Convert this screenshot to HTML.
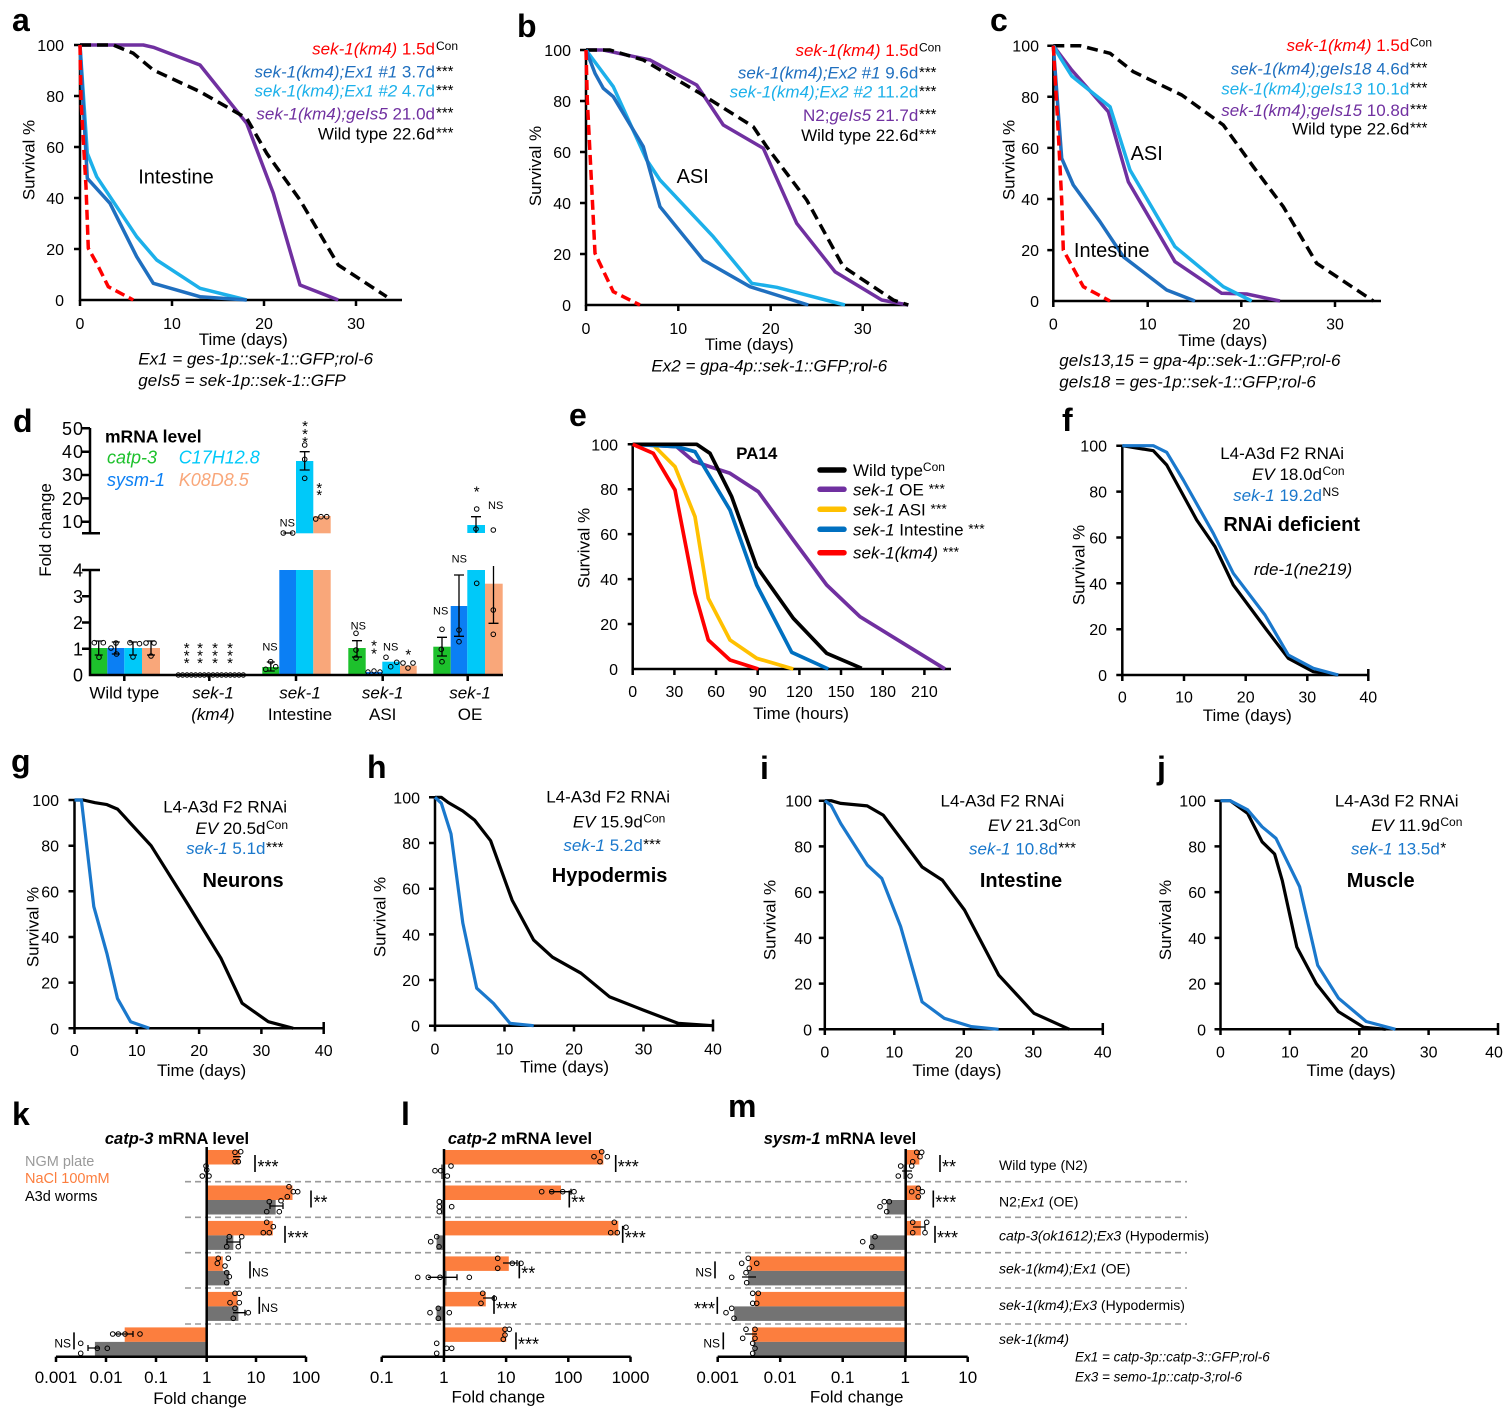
<!DOCTYPE html>
<html><head><meta charset="utf-8">
<style>
html,body{margin:0;padding:0;background:#fff;}
svg{display:block;}
text{font-family:"Liberation Sans",Arial,sans-serif;fill:#000;}
</style></head><body>
<svg width="1509" height="1409" viewBox="0 0 1509 1409" xmlns="http://www.w3.org/2000/svg">
<rect width="1509" height="1409" fill="#fff"/>

<!-- panel letters -->
<g font-size="32" font-weight="bold">
<text x="12" y="31">a</text><text x="517" y="37">b</text><text x="990" y="31">c</text>
<text x="13" y="432">d</text><text x="569" y="426">e</text><text x="1062" y="431">f</text>
<text x="11" y="772">g</text><text x="367" y="778">h</text><text x="760" y="779">i</text><text x="1157" y="779">j</text>
<text x="12" y="1125">k</text><text x="401" y="1125">l</text><text x="728" y="1117">m</text>
</g>

<!-- ================= PANEL A ================= -->
<g stroke="#000" stroke-width="2.5" fill="none">
<path d="M80,45V300H402"/>
<path d="M74,45H80M74,96H80M74,147H80M74,198H80M74,249H80M80,300V306M172,300V306M264,300V306M356,300V306"/>
</g>
<g font-size="16" text-anchor="end">
<text x="64" y="51">100</text><text x="64" y="102">80</text><text x="64" y="153">60</text><text x="64" y="204">40</text><text x="64" y="255">20</text><text x="64" y="306">0</text>
</g>
<g font-size="16" text-anchor="middle">
<text x="80" y="329">0</text><text x="172" y="329">10</text><text x="264" y="329">20</text><text x="356" y="329">30</text>
</g>
<g fill="none" stroke-width="3.5" stroke-linejoin="round">
<polyline stroke="#7030a0" points="80,45 143.3,45 153.3,47.3 200,65 246.7,123.3 273.3,193.3 300,285 338.3,300"/>
<polyline stroke="#000" stroke-dasharray="11 6" points="80,45 113.3,45 133.3,53.3 153.3,70 200,91.7 246.7,118.3 266.7,153.3 300,200 338.3,265 386.7,296.7"/>
<polyline stroke="#1cb0ea" points="80,45 87.3,153.3 96.7,176.7 136.7,236.7 156.7,260 200,288.3 246.7,300"/>
<polyline stroke="#1f6fbf" points="80,45 87.3,178.3 110,203.3 136.7,256.7 153.3,283.3 200,296.7 246.7,300"/>
<polyline stroke="#ff0000" stroke-dasharray="10 5" points="80,45 81,100 86,186.7 88.3,248.3 96.7,263.3 108.3,286.7 133.3,300"/>
</g>
<g font-size="17" text-anchor="end">
<text x="435" y="54.3" fill="#ff0000"><tspan font-style="italic" fill="#ff0000">sek-1(km4)</tspan><tspan fill="#ff0000"> 1.5d</tspan></text>
<text x="435" y="77.7"><tspan font-style="italic" fill="#1f6fbf">sek-1(km4);Ex1 #1</tspan><tspan fill="#1f6fbf"> 3.7d</tspan></text>
<text x="435" y="96.7"><tspan font-style="italic" fill="#1cb0ea">sek-1(km4);Ex1 #2</tspan><tspan fill="#1cb0ea"> 4.7d</tspan></text>
<text x="435" y="119.3"><tspan font-style="italic" fill="#7030a0">sek-1(km4);geIs5</tspan><tspan fill="#7030a0"> 21.0d</tspan></text>
<text x="435" y="139.3">Wild type 22.6d</text>
</g>
<text x="436" y="50" font-size="12">Con</text>
<g font-size="15"><text x="436" y="76">***</text><text x="436" y="95">***</text><text x="436" y="117.5">***</text><text x="436" y="137.5">***</text></g>
<text x="176" y="183.7" font-size="20" text-anchor="middle">Intestine</text>
<text transform="translate(34.5,160) rotate(-90)" font-size="17" text-anchor="middle">Survival %</text>
<text x="243.3" y="345" font-size="17" text-anchor="middle">Time (days)</text>
<g font-size="17" font-style="italic">
<text x="138.3" y="364.3">Ex1 = ges-1p::sek-1::GFP;rol-6</text>
<text x="138.3" y="386">geIs5 = sek-1p::sek-1::GFP</text>
</g>

<!-- ================= PANEL B ================= -->
<g stroke="#000" stroke-width="2.5" fill="none">
<path d="M586,50V305H908"/>
<path d="M580,50H586M580,101H586M580,152H586M580,203H586M580,254H586M586,305V311M678.3,305V311M770.7,305V311M862.7,305V311"/>
</g>
<g font-size="16" text-anchor="end">
<text x="571" y="56">100</text><text x="571" y="107">80</text><text x="571" y="158">60</text><text x="571" y="209">40</text><text x="571" y="260">20</text><text x="571" y="311">0</text>
</g>
<g font-size="16" text-anchor="middle">
<text x="586" y="334">0</text><text x="678.3" y="334">10</text><text x="770.7" y="334">20</text><text x="862.7" y="334">30</text>
</g>
<g fill="none" stroke-width="3.5" stroke-linejoin="round">
<polyline stroke="#7030a0" points="586,50 603.3,50 650,60 696.7,85 723.3,125 763.3,148.3 796.7,223.3 835,271.7 881.7,300 908.3,305"/>
<polyline stroke="#000" stroke-dasharray="11 6" points="586,50 610,50 643.3,60 700,93.3 753.3,126.7 766.7,146.7 806.7,200 843.3,266.7 893.3,300 908.3,305"/>
<polyline stroke="#1cb0ea" points="586,50 613.3,86.7 646.7,160 660,180 713.3,236.7 751.7,283.3 776.7,287.3 845,305"/>
<polyline stroke="#1f6fbf" points="586,50 595,73.3 603.3,88.3 613.3,96.7 643.3,146.7 660,206.7 703.3,260 750,286.7 808.3,305"/>
<polyline stroke="#ff0000" stroke-dasharray="10 5" points="586,50 587.3,100 591.7,186.7 595,253.3 613.3,291.7 640,305"/>
</g>
<g font-size="17" text-anchor="end">
<text x="918.3" y="56"><tspan font-style="italic" fill="#ff0000">sek-1(km4)</tspan><tspan fill="#ff0000"> 1.5d</tspan></text>
<text x="918.3" y="78.7"><tspan font-style="italic" fill="#1f6fbf">sek-1(km4);Ex2 #1</tspan><tspan fill="#1f6fbf"> 9.6d</tspan></text>
<text x="918.3" y="97.7"><tspan font-style="italic" fill="#1cb0ea">sek-1(km4);Ex2 #2</tspan><tspan fill="#1cb0ea"> 11.2d</tspan></text>
<text x="918.3" y="121"><tspan fill="#7030a0">N2;</tspan><tspan font-style="italic" fill="#7030a0">geIs5</tspan><tspan fill="#7030a0"> 21.7d</tspan></text>
<text x="918.3" y="141">Wild type 22.6d</text>
</g>
<text x="919" y="51.5" font-size="12">Con</text>
<g font-size="15"><text x="919" y="77">***</text><text x="919" y="96">***</text><text x="919" y="119">***</text><text x="919" y="139">***</text></g>
<text x="692.7" y="183" font-size="20" text-anchor="middle">ASI</text>
<text transform="translate(541,166) rotate(-90)" font-size="17" text-anchor="middle">Survival %</text>
<text x="749.3" y="350" font-size="17" text-anchor="middle">Time (days)</text>
<text x="769.3" y="371.7" font-size="17" font-style="italic" text-anchor="middle">Ex2 = gpa-4p::sek-1::GFP;rol-6</text>

<!-- ================= PANEL C ================= -->
<g stroke="#000" stroke-width="2.5" fill="none">
<path d="M1053.3,45.7V301H1381"/>
<path d="M1047.3,45.7H1053.3M1047.3,96.8H1053.3M1047.3,147.9H1053.3M1047.3,199H1053.3M1047.3,250.1H1053.3M1053.3,301V307M1147.7,301V307M1241.3,301V307M1335,301V307"/>
</g>
<g font-size="16" text-anchor="end">
<text x="1039" y="51.7">100</text><text x="1039" y="102.8">80</text><text x="1039" y="153.9">60</text><text x="1039" y="205">40</text><text x="1039" y="256">20</text><text x="1039" y="307">0</text>
</g>
<g font-size="16" text-anchor="middle">
<text x="1053.3" y="329.5">0</text><text x="1147.7" y="329.5">10</text><text x="1241.3" y="329.5">20</text><text x="1335" y="329.5">30</text>
</g>
<g fill="none" stroke-width="3.5" stroke-linejoin="round">
<polyline stroke="#000" stroke-dasharray="11 6" points="1053.3,45.7 1080,45.7 1110,53.3 1133.3,71.7 1181.7,95 1223.3,125 1253.3,166.7 1283.3,206.7 1316.7,263.3 1373.3,301"/>
<polyline stroke="#7030a0" points="1053.3,45.7 1071.7,70 1108.3,111.7 1128.3,181.7 1175,261.7 1221.7,293.3 1246.7,294 1280,301"/>
<polyline stroke="#1cb0ea" points="1053.3,45.7 1061.7,60 1071.7,76 1085,86.7 1110,106.7 1130,170 1175,246.7 1223.3,286.7 1251.7,301"/>
<polyline stroke="#1f6fbf" points="1053.3,45.7 1061.7,158.3 1073.3,185 1100,221.7 1123.3,256.7 1166.7,290 1195,301"/>
<polyline stroke="#ff0000" stroke-dasharray="10 5" points="1053.3,45.7 1058.3,133.3 1061.7,200 1063.3,250 1083.3,286.7 1110,301"/>
</g>
<g font-size="17" text-anchor="end">
<text x="1409.3" y="51"><tspan font-style="italic" fill="#ff0000">sek-1(km4)</tspan><tspan fill="#ff0000"> 1.5d</tspan></text>
<text x="1409.3" y="74.3"><tspan font-style="italic" fill="#1f6fbf">sek-1(km4);geIs18</tspan><tspan fill="#1f6fbf"> 4.6d</tspan></text>
<text x="1409.3" y="94.3"><tspan font-style="italic" fill="#1cb0ea">sek-1(km4);geIs13</tspan><tspan fill="#1cb0ea"> 10.1d</tspan></text>
<text x="1409.3" y="116"><tspan font-style="italic" fill="#7030a0">sek-1(km4);geIs15</tspan><tspan fill="#7030a0"> 10.8d</tspan></text>
<text x="1409.3" y="134.3">Wild type 22.6d</text>
</g>
<text x="1410" y="46.5" font-size="12">Con</text>
<g font-size="15"><text x="1410" y="72.5">***</text><text x="1410" y="92.5">***</text><text x="1410" y="114">***</text><text x="1410" y="132.5">***</text></g>
<text x="1146.7" y="160" font-size="20" text-anchor="middle">ASI</text>
<text x="1111.7" y="257" font-size="20" text-anchor="middle">Intestine</text>
<text transform="translate(1014.5,160) rotate(-90)" font-size="17" text-anchor="middle">Survival %</text>
<text x="1222.7" y="346" font-size="17" text-anchor="middle">Time (days)</text>
<g font-size="17" font-style="italic">
<text x="1059.3" y="366">geIs13,15 = gpa-4p::sek-1::GFP;rol-6</text>
<text x="1059.3" y="387.7">geIs18 = ges-1p::sek-1::GFP;rol-6</text>
</g>

<!-- ================= PANEL D ================= -->
<g>
<!-- bars -->
<rect x="90" y="648" width="17.3" height="27" fill="#1dc12c"/>
<rect x="107.3" y="648" width="17" height="27" fill="#0b7ff4"/>
<rect x="124.3" y="648" width="17.7" height="27" fill="#00c9f9"/>
<rect x="142" y="648" width="18" height="27" fill="#f9a77a"/>
<rect x="262.3" y="667" width="17" height="8" fill="#1dc12c"/>
<rect x="279.3" y="570" width="16.7" height="105" fill="#0b7ff4"/>
<rect x="296" y="570" width="17.3" height="105" fill="#00c9f9"/>
<rect x="313.3" y="570" width="17.4" height="105" fill="#f9a77a"/>
<rect x="296" y="461" width="17.3" height="72.3" fill="#00c9f9"/>
<rect x="313.3" y="516" width="17.4" height="17.3" fill="#f9a77a"/>
<rect x="348.3" y="648" width="17.4" height="27" fill="#1dc12c"/>
<rect x="365.7" y="672" width="16.6" height="3" fill="#0b7ff4"/>
<rect x="382.3" y="661.7" width="17.7" height="13.3" fill="#00c9f9"/>
<rect x="400" y="665.7" width="16.7" height="9.3" fill="#f9a77a"/>
<rect x="433.3" y="646.7" width="17.4" height="28.3" fill="#1dc12c"/>
<rect x="450.7" y="606" width="16.6" height="69" fill="#0b7ff4"/>
<rect x="467.3" y="570" width="17.7" height="105" fill="#00c9f9"/>
<rect x="485" y="583.7" width="17.7" height="91.3" fill="#f9a77a"/>
<rect x="467.3" y="525" width="17.7" height="8" fill="#00c9f9"/>
</g>
<!-- error bars -->
<g stroke="#000" stroke-width="1.3" fill="none">
<path d="M98.7,641V655M94.7,641H102.7M94.7,655H102.7"/>
<path d="M115.8,642V654M111.8,642H119.8M111.8,654H119.8"/>
<path d="M133,642V655M129,642H137M129,655H137"/>
<path d="M151,641V655M147,641H155M147,655H155"/>
<path d="M270.8,662V671M266.8,662H274.8M266.8,671H274.8"/>
<path d="M304.7,451.7V470M299.7,451.7H309.7M299.7,470H309.7"/>
<path d="M357,640.7V657M352,640.7H362M352,657H362"/>
<path d="M442,637.3V656M437,637.3H447M437,656H447"/>
<path d="M459,575V636.3M454,575H464M454,636.3H464"/>
<path d="M476,516.7V533M471,516.7H481"/>
<path d="M493.5,566V623.3M488.5,623.3H498.5"/>
<path d="M283.3,533H292.7"/>
</g>
<!-- dots -->
<g stroke="#000" stroke-width="1" fill="none">
<circle cx="94.3" cy="642.7" r="2.3"/><circle cx="103.3" cy="642.7" r="2.3"/><circle cx="99" cy="657.3" r="2.3"/>
<circle cx="111" cy="648" r="2.3"/><circle cx="116" cy="643" r="2.3"/><circle cx="116.5" cy="654" r="2.3"/>
<circle cx="130" cy="642.7" r="2.3"/><circle cx="139.5" cy="643.7" r="2.3"/><circle cx="133" cy="657" r="2.3"/>
<circle cx="146" cy="643" r="2.3"/><circle cx="154" cy="643" r="2.3"/><circle cx="151" cy="656" r="2.3"/>
<circle cx="178.3" cy="675" r="2.2"/><circle cx="182.6" cy="675" r="2.2"/><circle cx="187" cy="675" r="2.2"/><circle cx="191.3" cy="675" r="2.2"/>
<circle cx="195.6" cy="675" r="2.2"/><circle cx="200" cy="675" r="2.2"/><circle cx="204.3" cy="675" r="2.2"/><circle cx="208.6" cy="675" r="2.2"/>
<circle cx="213" cy="675" r="2.2"/><circle cx="217.3" cy="675" r="2.2"/><circle cx="221.6" cy="675" r="2.2"/><circle cx="226" cy="675" r="2.2"/>
<circle cx="230.3" cy="675" r="2.2"/><circle cx="234.6" cy="675" r="2.2"/><circle cx="239" cy="675" r="2.2"/><circle cx="243.3" cy="675" r="2.2"/>
<circle cx="265.7" cy="669.3" r="2.3"/><circle cx="270.7" cy="661.7" r="2.3"/><circle cx="275.7" cy="666.7" r="2.3"/>
<circle cx="304.7" cy="459.3" r="2.3"/><circle cx="304.7" cy="478.3" r="2.3"/><circle cx="304.7" cy="445" r="2.3"/>
<circle cx="315.7" cy="519" r="2.3"/><circle cx="321" cy="516.7" r="2.3"/><circle cx="326.7" cy="516.7" r="2.3"/>
<circle cx="283.3" cy="533" r="2.3"/><circle cx="292.7" cy="533" r="2.3"/>
<circle cx="356" cy="633.3" r="2.3"/><circle cx="356" cy="650" r="2.3"/><circle cx="356" cy="658" r="2.3"/>
<circle cx="368" cy="672" r="2.2"/><circle cx="374" cy="671" r="2.2"/><circle cx="380" cy="672" r="2.2"/>
<circle cx="386" cy="657.3" r="2.3"/><circle cx="390.7" cy="666.7" r="2.3"/><circle cx="396.7" cy="662.3" r="2.3"/>
<circle cx="403" cy="663" r="2.3"/><circle cx="408" cy="668" r="2.3"/><circle cx="413" cy="663" r="2.3"/>
<circle cx="442" cy="629.3" r="2.3"/><circle cx="441.3" cy="649.3" r="2.3"/><circle cx="442" cy="661.7" r="2.3"/>
<circle cx="459" cy="630" r="2.3"/><circle cx="459" cy="641.7" r="2.3"/>
<circle cx="476.7" cy="509" r="2.3"/><circle cx="476" cy="529" r="2.3"/><circle cx="476.7" cy="583.3" r="2.3"/>
<circle cx="493.3" cy="610" r="2.3"/><circle cx="493.3" cy="634.3" r="2.3"/><circle cx="493.3" cy="530" r="2.3"/>
</g>
<!-- axes d -->
<g stroke="#000" stroke-width="2.5" fill="none">
<path d="M90,428V533.3M82,428.3H90M82,451.7H90M82,475H90M82,498.4H90M82,521.7H90M82,533.3H100"/>
<path d="M90,570V675H503M82,570H100M82,596.3H90M82,622.5H90M82,648.8H90"/>
<path d="M124.3,675V681M209.3,675V681M296,675V681M382.7,675V681M467.7,675V681"/>
</g>
<g font-size="18" text-anchor="end" letter-spacing="1">
<text x="84" y="435">50</text><text x="84" y="458">40</text><text x="84" y="481">30</text><text x="84" y="505">20</text><text x="84" y="528">10</text>
<text x="84" y="576.5">4</text><text x="84" y="602.8">3</text><text x="84" y="629">2</text><text x="84" y="655.3">1</text><text x="84" y="681.5">0</text>
</g>
<text transform="translate(51,530) rotate(-90)" font-size="17" text-anchor="middle">Fold change</text>
<text x="105" y="442.7" font-size="17.5" font-weight="bold">mRNA level</text>
<g font-size="18" font-style="italic">
<text x="107" y="463.5" fill="#1dc12c" style="fill:#1dc12c">catp-3</text>
<text x="178.7" y="463.5" style="fill:#00c9f9">C17H12.8</text>
<text x="107" y="486" style="fill:#0b7ff4">sysm-1</text>
<text x="178.7" y="486" style="fill:#f9a77a">K08D8.5</text>
</g>
<g font-size="17" text-anchor="middle">
<text x="124.3" y="698.7">Wild type</text>
<text x="213" y="698.7" font-style="italic">sek-1</text><text x="213" y="720" font-style="italic">(km4)</text>
<text x="300" y="698.7" font-style="italic">sek-1</text><text x="300" y="720">Intestine</text>
<text x="382.7" y="698.7" font-style="italic">sek-1</text><text x="382.7" y="720">ASI</text>
<text x="470" y="698.7" font-style="italic">sek-1</text><text x="470" y="720">OE</text>
</g>
<g font-size="11" text-anchor="middle">
<text x="270" y="650.7">NS</text><text x="287.3" y="526.7">NS</text>
<text x="358.3" y="629.7">NS</text><text x="390.7" y="650.7">NS</text>
<text x="440.7" y="614.7">NS</text><text x="459.3" y="562.3">NS</text><text x="495.7" y="509">NS</text>
</g>
<g font-size="15" text-anchor="middle">
<text x="186.7" y="653">*</text><text x="186.7" y="660.3">*</text><text x="186.7" y="668">*</text>
<text x="200" y="653">*</text><text x="200" y="660.3">*</text><text x="200" y="668">*</text>
<text x="215" y="653">*</text><text x="215" y="660.3">*</text><text x="215" y="668">*</text>
<text x="230" y="653">*</text><text x="230" y="660.3">*</text><text x="230" y="668">*</text>
<text x="305" y="431">*</text><text x="305" y="439">*</text><text x="305" y="447">*</text>
<text x="319.3" y="493">*</text><text x="319.3" y="500">*</text>
<text x="374" y="650.7">*</text><text x="374" y="658.7">*</text>
<text x="408.3" y="659.7">*</text>
<text x="476.7" y="496.3">*</text>
</g>

<!-- ================= PANEL E ================= -->
<g stroke="#000" stroke-width="2.5" fill="none">
<path d="M632.7,444.3V669H951"/>
<path d="M627.7,444.3H632.7M627.7,489.2H632.7M627.7,534.1H632.7M627.7,579.1H632.7M627.7,624H632.7M632.7,669V675M674.4,669V675M716,669V675M757.7,669V675M799.4,669V675M841,669V675M882.7,669V675M924.4,669V675"/>
</g>
<g font-size="16" text-anchor="end">
<text x="618" y="450.3">100</text><text x="618" y="495.2">80</text><text x="618" y="540.1">60</text><text x="618" y="585.1">40</text><text x="618" y="630">20</text><text x="618" y="675">0</text>
</g>
<g font-size="16" text-anchor="middle">
<text x="632.7" y="697">0</text><text x="674.4" y="697">30</text><text x="716" y="697">60</text><text x="757.7" y="697">90</text><text x="799.4" y="697">120</text><text x="841" y="697">150</text><text x="882.7" y="697">180</text><text x="924.4" y="697">210</text>
</g>
<g fill="none" stroke-width="3.7" stroke-linejoin="round">
<polyline stroke="#7030a0" points="632.7,444.3 676.7,446.7 693.3,461 710,466.7 730,473.3 758.3,491.7 793.3,540 826.7,585 860,616.7 945,669"/>
<polyline stroke="#ffc000" points="632.7,444.3 653.3,445 675,466.7 695,516.7 708.3,598.3 730,640 756.7,658.3 793.3,669"/>
<polyline stroke="#0070c0" points="632.7,444.3 676.7,446.7 695,451.7 730,510 756.7,585 791.7,652.3 828.3,669"/>
<polyline stroke="#000" points="632.7,444.3 696.7,444.3 710,453.3 731.7,496.7 756.7,566.7 793.3,618.3 826.7,653.3 861.7,668.3"/>
<polyline stroke="#ff0000" points="632.7,444.3 653.3,453.3 675,490 695,593.3 708.3,640 730,660 758.3,669"/>
</g>
<text x="756.7" y="459" font-size="17" font-weight="bold" text-anchor="middle">PA14</text>
<g stroke-width="5.5" stroke-linecap="round">
<line x1="820" y1="470" x2="844" y2="470" stroke="#000"/>
<line x1="820" y1="489.3" x2="844" y2="489.3" stroke="#7030a0"/>
<line x1="820" y1="509.3" x2="844" y2="509.3" stroke="#ffc000"/>
<line x1="820" y1="529.3" x2="844" y2="529.3" stroke="#0070c0"/>
<line x1="820" y1="552.7" x2="844" y2="552.7" stroke="#ff0000"/>
</g>
<g font-size="17">
<text x="853" y="476">Wild type<tspan font-size="12" dy="-5">Con</tspan></text>
<text x="853" y="495.3"><tspan font-style="italic">sek-1</tspan> OE <tspan font-size="14" dy="-2">***</tspan></text>
<text x="853" y="515.3"><tspan font-style="italic">sek-1</tspan> ASI <tspan font-size="14" dy="-2">***</tspan></text>
<text x="853" y="535.3"><tspan font-style="italic">sek-1</tspan> Intestine <tspan font-size="14" dy="-2">***</tspan></text>
<text x="853" y="558.7"><tspan font-style="italic">sek-1(km4)</tspan> <tspan font-size="14" dy="-2">***</tspan></text>
</g>
<text transform="translate(589.5,548) rotate(-90)" font-size="17" text-anchor="middle">Survival %</text>
<text x="801" y="719" font-size="17" text-anchor="middle">Time (hours)</text>

<!-- ================= PANEL F ================= -->
<g stroke="#000" stroke-width="2.5" fill="none">
<path d="M1122.3,445.7V675H1368.3"/>
<path d="M1116.3,445.7H1122.3M1116.3,491.6H1122.3M1116.3,537.5H1122.3M1116.3,583.3H1122.3M1116.3,629.2H1122.3M1116.3,675H1122.3M1122.3,675V681M1184,675V681M1245.7,675V681M1307.3,675V681M1368.3,669V681"/>
</g>
<g font-size="16" text-anchor="end">
<text x="1107" y="451.7">100</text><text x="1107" y="497.6">80</text><text x="1107" y="543.5">60</text><text x="1107" y="589.3">40</text><text x="1107" y="635.2">20</text><text x="1107" y="681">0</text>
</g>
<g font-size="16" text-anchor="middle">
<text x="1122.3" y="702.7">0</text><text x="1184" y="702.7">10</text><text x="1245.7" y="702.7">20</text><text x="1307.3" y="702.7">30</text><text x="1368.3" y="702.7">40</text>
</g>
<g fill="none" stroke-width="3.2" stroke-linejoin="round">
<polyline stroke="#000" points="1122.3,445.7 1153.3,450.7 1166.7,465 1196.7,520 1215,546.7 1233.3,585 1266.7,630 1288.3,658.3 1313.3,671.7 1338.3,675"/>
<polyline stroke="#1a78cc" points="1122.3,445.7 1153.3,445.7 1166.7,452.3 1183.3,480 1213.3,533.3 1233.3,573.3 1265,615 1288.3,655 1313.3,668.3 1338.3,675"/>
</g>
<g font-size="17" text-anchor="end">
<text x="1344" y="459">L4-A3d F2 RNAi</text>
<text x="1322" y="480"><tspan font-style="italic">EV</tspan> 18.0d</text>
<text x="1322" y="501" style="fill:#1a78cc"><tspan font-style="italic">sek-1</tspan> 19.2d</text>
</g>
<text x="1322.5" y="475" font-size="12">Con</text>
<text x="1322.5" y="496" font-size="12">NS</text>
<text x="1291.7" y="531" font-size="20" font-weight="bold" text-anchor="middle">RNAi deficient</text>
<text x="1303" y="575" font-size="17" font-style="italic" text-anchor="middle">rde-1(ne219)</text>
<text transform="translate(1084.5,565) rotate(-90)" font-size="17" text-anchor="middle">Survival %</text>
<text x="1247.3" y="721" font-size="17" text-anchor="middle">Time (days)</text>

<!-- ================= PANEL G ================= -->
<g stroke="#000" stroke-width="2.5" fill="none">
<path d="M74.5,800V1028.3H323.7"/>
<path d="M68.5,800H74.5M68.5,845.7H74.5M68.5,891.3H74.5M68.5,937H74.5M68.5,982.6H74.5M68.5,1028.3H74.5M74.5,1028.3V1034M136.8,1028.3V1034M199.1,1028.3V1034M261.4,1028.3V1034M323.7,1022V1034"/>
</g>
<g font-size="16" text-anchor="end">
<text x="59" y="806">100</text><text x="59" y="851.7">80</text><text x="59" y="897.3">60</text><text x="59" y="943">40</text><text x="59" y="988.6">20</text><text x="59" y="1034.3">0</text>
</g>
<g font-size="16" text-anchor="middle">
<text x="74.5" y="1056">0</text><text x="136.8" y="1056">10</text><text x="199.1" y="1056">20</text><text x="261.4" y="1056">30</text><text x="323.7" y="1056">40</text>
</g>
<g fill="none" stroke-width="3.2" stroke-linejoin="round">
<polyline stroke="#000" points="74.5,800 83.2,800 95.1,802.7 106.9,804.6 117.5,809.1 151.1,845.7 187.3,903.4 220.9,958.2 242.1,1003.2 268.3,1021.7 293.2,1028.3"/>
<polyline stroke="#1a78cc" points="74.5,800 81.4,800 93.8,906.6 106.9,953.4 117.5,998.6 130.6,1021.7 149.3,1028.3"/>
</g>
<g font-size="17" text-anchor="end">
<text x="287" y="812.7">L4-A3d F2 RNAi</text>
<text x="265.5" y="834"><tspan font-style="italic">EV</tspan> 20.5d</text>
<text x="265.5" y="854" style="fill:#1a78cc"><tspan font-style="italic">sek-1</tspan> 5.1d</text>
</g>
<text x="266" y="829" font-size="12">Con</text>
<text x="266" y="852" font-size="15">***</text>
<text x="243" y="887" font-size="20" font-weight="bold" text-anchor="middle">Neurons</text>
<text transform="translate(38.5,927) rotate(-90)" font-size="17" text-anchor="middle">Survival %</text>
<text x="201.6" y="1076" font-size="17" text-anchor="middle">Time (days)</text>

<!-- ================= PANEL H ================= -->
<g stroke="#000" stroke-width="2.5" fill="none">
<path d="M435,797.3V1025.7H713"/>
<path d="M429,797.3H435M429,843H435M429,888.7H435M429,934.4H435M429,980H435M429,1025.7H435M435,1025.7V1031.5M504.5,1025.7V1031.5M574,1025.7V1031.5M643.5,1025.7V1031.5M713,1019.5V1031.5"/>
</g>
<g font-size="16" text-anchor="end">
<text x="420" y="803.3">100</text><text x="420" y="849">80</text><text x="420" y="894.7">60</text><text x="420" y="940.4">40</text><text x="420" y="986">20</text><text x="420" y="1031.7">0</text>
</g>
<g font-size="16" text-anchor="middle">
<text x="435" y="1054.3">0</text><text x="504.5" y="1054.3">10</text><text x="574" y="1054.3">20</text><text x="643.5" y="1054.3">30</text><text x="713" y="1054.3">40</text>
</g>
<g fill="none" stroke-width="3.2" stroke-linejoin="round">
<polyline stroke="#000" points="435,797.3 441.3,797.3 448.2,802.5 462.8,811 474.6,820.1 490.6,840.7 512.1,900.1 533.7,940.1 552.5,957.2 581,973.2 609.4,996.7 642.8,1009.9 678.3,1023.4 713,1025.7"/>
<polyline stroke="#1a78cc" points="435,797.3 441.3,803.2 451,833.8 462.8,922.9 476.7,988.2 493.4,1003.3 510.1,1023.4 533.7,1025.7"/>
</g>
<g font-size="17" text-anchor="end">
<text x="670" y="802.7">L4-A3d F2 RNAi</text>
<text x="642.8" y="827.7"><tspan font-style="italic">EV</tspan> 15.9d</text>
<text x="642.8" y="851" style="fill:#1a78cc"><tspan font-style="italic">sek-1</tspan> 5.2d</text>
</g>
<text x="643.3" y="822.7" font-size="12">Con</text>
<text x="643.3" y="849" font-size="15">***</text>
<text x="609.6" y="882" font-size="20" font-weight="bold" text-anchor="middle">Hypodermis</text>
<text transform="translate(385.5,917) rotate(-90)" font-size="17" text-anchor="middle">Survival %</text>
<text x="564.5" y="1072.7" font-size="17" text-anchor="middle">Time (days)</text>

<!-- ================= PANEL I ================= -->
<g stroke="#000" stroke-width="2.5" fill="none">
<path d="M824.8,800.7V1029.3H1102.8"/>
<path d="M818.8,800.7H824.8M818.8,846.4H824.8M818.8,892.1H824.8M818.8,937.9H824.8M818.8,983.6H824.8M818.8,1029.3H824.8M824.8,1029.3V1035M894.3,1029.3V1035M963.8,1029.3V1035M1033.3,1029.3V1035M1102.8,1023V1035"/>
</g>
<g font-size="16" text-anchor="end">
<text x="812" y="806.7">100</text><text x="812" y="852.4">80</text><text x="812" y="898.1">60</text><text x="812" y="943.9">40</text><text x="812" y="989.6">20</text><text x="812" y="1035.3">0</text>
</g>
<g font-size="16" text-anchor="middle">
<text x="824.8" y="1057.7">0</text><text x="894.3" y="1057.7">10</text><text x="963.8" y="1057.7">20</text><text x="1033.3" y="1057.7">30</text><text x="1102.8" y="1057.7">40</text>
</g>
<g fill="none" stroke-width="3.2" stroke-linejoin="round">
<polyline stroke="#000" points="824.8,800.7 831.1,800.7 840.8,803.4 867.2,805.9 883.2,815.1 922.1,867 942.3,880.1 964.5,910 998.6,974.9 1034,1013.3 1069.4,1029.3"/>
<polyline stroke="#1a78cc" points="824.8,800.7 831.1,805.3 840.8,823.6 867.2,864.9 881.8,878.4 900.6,926.4 922.1,1001.9 944.3,1018.3 971.4,1026.6 998.6,1029.3"/>
</g>
<g font-size="17" text-anchor="end">
<text x="1064.3" y="806.7">L4-A3d F2 RNAi</text>
<text x="1057.9" y="831"><tspan font-style="italic">EV</tspan> 21.3d</text>
<text x="1057.9" y="854.3" style="fill:#1a78cc"><tspan font-style="italic">sek-1</tspan> 10.8d</text>
</g>
<text x="1058.4" y="826" font-size="12">Con</text>
<text x="1058.4" y="852.3" font-size="15">***</text>
<text x="1021" y="887" font-size="20" font-weight="bold" text-anchor="middle">Intestine</text>
<text transform="translate(775.6,920) rotate(-90)" font-size="17" text-anchor="middle">Survival %</text>
<text x="956.9" y="1076" font-size="17" text-anchor="middle">Time (days)</text>

<!-- ================= PANEL J ================= -->
<g stroke="#000" stroke-width="2.5" fill="none">
<path d="M1220.5,800.7V1029.3H1498"/>
<path d="M1214.5,800.7H1220.5M1214.5,846.4H1220.5M1214.5,892.1H1220.5M1214.5,937.9H1220.5M1214.5,983.6H1220.5M1214.5,1029.3H1220.5M1220.5,1029.3V1035M1289.9,1029.3V1035M1359.3,1029.3V1035M1428.6,1029.3V1035M1498,1023V1035"/>
</g>
<g font-size="16" text-anchor="end">
<text x="1206" y="806.7">100</text><text x="1206" y="852.4">80</text><text x="1206" y="898.1">60</text><text x="1206" y="943.9">40</text><text x="1206" y="989.6">20</text><text x="1206" y="1035.3">0</text>
</g>
<g font-size="16" text-anchor="middle">
<text x="1220.5" y="1057.7">0</text><text x="1289.9" y="1057.7">10</text><text x="1359.3" y="1057.7">20</text><text x="1428.6" y="1057.7">30</text><text x="1494" y="1057.7">40</text>
</g>
<g fill="none" stroke-width="3.2" stroke-linejoin="round">
<polyline stroke="#000" points="1220.5,800.7 1230.2,800.7 1247.6,813.3 1262.1,841.8 1274.6,854 1282.3,880.7 1296.8,947 1316.3,983.6 1338.5,1011.7 1363.5,1027.2 1385.7,1029.3"/>
<polyline stroke="#1a78cc" points="1220.5,800.7 1230.2,800.7 1247.6,809.8 1262.1,826.8 1276,838.4 1299.6,886.7 1317.7,965.3 1338.5,998.2 1366.2,1021.5 1395.4,1029.3"/>
</g>
<g font-size="17" text-anchor="end">
<text x="1458.6" y="806.7">L4-A3d F2 RNAi</text>
<text x="1439.9" y="831"><tspan font-style="italic">EV</tspan> 11.9d</text>
<text x="1439.9" y="854.3" style="fill:#1a78cc"><tspan font-style="italic">sek-1</tspan> 13.5d</text>
</g>
<text x="1440.4" y="826" font-size="12">Con</text>
<text x="1440.4" y="852.3" font-size="15">*</text>
<text x="1380.7" y="887" font-size="20" font-weight="bold" text-anchor="middle">Muscle</text>
<text transform="translate(1170.8,920) rotate(-90)" font-size="17" text-anchor="middle">Survival %</text>
<text x="1351.1" y="1076" font-size="17" text-anchor="middle">Time (days)</text>

<!-- ================= PANELS K L M ================= -->
<g stroke="#9a9a9a" stroke-width="1.6" stroke-dasharray="6 4">
<line x1="185" y1="1181.7" x2="1187" y2="1181.7"/>
<line x1="185" y1="1217.3" x2="1187" y2="1217.3"/>
<line x1="185" y1="1252.7" x2="1187" y2="1252.7"/>
<line x1="185" y1="1288" x2="1187" y2="1288"/>
<line x1="185" y1="1324" x2="1187" y2="1324"/>
</g>
<!-- k bars -->
<g fill="#fc7e3e">
<rect x="206.7" y="1150" width="33" height="14.5"/>
<rect x="206.7" y="1185.5" width="85.8" height="14.5"/>
<rect x="206.7" y="1220.9" width="66.1" height="14.5"/>
<rect x="206.7" y="1256.4" width="16.1" height="14.5"/>
<rect x="206.7" y="1291.9" width="30.7" height="14.5"/>
<rect x="124.7" y="1327.4" width="82" height="14.5"/>
<!-- l -->
<rect x="444" y="1150" width="159.3" height="14.5"/>
<rect x="444" y="1185.5" width="117" height="14.5"/>
<rect x="444" y="1220.9" width="174.3" height="14.5"/>
<rect x="444" y="1256.4" width="64.8" height="14.5"/>
<rect x="444" y="1291.9" width="41.8" height="14.5"/>
<rect x="444" y="1327.4" width="62.2" height="14.5"/>
<!-- m -->
<rect x="905.7" y="1150" width="13.6" height="14.5"/>
<rect x="905.7" y="1185.5" width="14.4" height="14.5"/>
<rect x="905.7" y="1220.9" width="15.2" height="14.5"/>
<rect x="749.6" y="1256.4" width="156.1" height="14.5"/>
<rect x="755.1" y="1291.9" width="150.6" height="14.5"/>
<rect x="752.1" y="1327.4" width="153.6" height="14.5"/>
</g>
<g fill="#737373">
<rect x="206.7" y="1200" width="69" height="14.5"/>
<rect x="206.7" y="1235.4" width="26.6" height="14.5"/>
<rect x="206.7" y="1270.9" width="22.4" height="14.5"/>
<rect x="206.7" y="1306.4" width="31.7" height="14.5"/>
<rect x="94.9" y="1341.9" width="111.8" height="14.5"/>
<rect x="441" y="1164.5" width="3" height="14.5"/>
<rect x="441" y="1200" width="3" height="14.5"/>
<rect x="436.6" y="1235.4" width="7.4" height="14.5"/>
<rect x="444" y="1270.9" width="2.6" height="14.5"/>
<rect x="436.6" y="1306.4" width="7.4" height="14.5"/>
<rect x="903.4" y="1164.5" width="2.3" height="14.5"/>
<rect x="886.9" y="1200" width="18.8" height="14.5"/>
<rect x="870.2" y="1235.4" width="35.5" height="14.5"/>
<rect x="748.1" y="1270.9" width="157.6" height="14.5"/>
<rect x="734.2" y="1306.4" width="171.5" height="14.5"/>
<rect x="753.6" y="1341.9" width="152.1" height="14.5"/>
</g>
<!-- error bars k l m -->
<g stroke="#000" stroke-width="1.3" fill="none">
<path d="M233,1156.7H241M270,1206H283M270,1203V1209M283,1203V1209M227,1242H240M227,1239V1245M240,1239V1245M233,1312.7H245M245,1309.7V1315.7M115,1334H133M133,1331V1337M88,1348H100M88,1345V1351"/>
<path d="M549,1191.7H571M571,1188.7V1194.7M503,1263H517M517,1260V1266M428,1277.3H457M457,1274.3V1280.3M483,1298H494M494,1295V1301"/>
<path d="M902,1171H912M913,1227H925M925,1224V1230M742,1277H756M745,1334H757"/>
</g>
<!-- axes k l m -->
<g stroke="#000" stroke-width="2.5" fill="none">
<path d="M206.7,1147V1356.7M56,1356.7H306M56,1356.7V1362M106,1356.7V1362M156,1356.7V1362M206.7,1356.7V1362M256,1356.7V1362M306,1356.7V1362"/>
<path d="M444,1149V1356.7M381.7,1356.7H630.7M381.7,1356.7V1362M443.9,1356.7V1362M506.1,1356.7V1362M568.3,1356.7V1362M630.5,1356.7V1362"/>
<path d="M905.7,1149V1356.7M717.7,1356.7H967.7M717.7,1356.7V1362M780.2,1356.7V1362M842.7,1356.7V1362M905.2,1356.7V1362M967.7,1356.7V1362"/>
</g>
<!-- dots k l m -->
<g stroke="#000" stroke-width="1" fill="none">
<circle cx="235" cy="1152.3" r="2.3"/><circle cx="240.7" cy="1151.7" r="2.3"/><circle cx="235" cy="1161.7" r="2.3"/><circle cx="238.3" cy="1161.7" r="2.3"/>
<circle cx="206" cy="1166" r="2.3"/><circle cx="206.7" cy="1170" r="2.3"/><circle cx="202.3" cy="1176" r="2.3"/><circle cx="209" cy="1176" r="2.3"/>
<circle cx="289" cy="1186.7" r="2.3"/><circle cx="293.3" cy="1191.7" r="2.3"/><circle cx="297.7" cy="1191.7" r="2.3"/><circle cx="287.3" cy="1196.7" r="2.3"/>
<circle cx="269.3" cy="1201.7" r="2.3"/><circle cx="281" cy="1200.7" r="2.3"/><circle cx="266.7" cy="1211.7" r="2.3"/><circle cx="279.3" cy="1211.7" r="2.3"/>
<circle cx="266.7" cy="1222.3" r="2.3"/><circle cx="273.3" cy="1226.7" r="2.3"/><circle cx="263.3" cy="1232.7" r="2.3"/><circle cx="269.3" cy="1232.7" r="2.3"/>
<circle cx="229.3" cy="1236.7" r="2.3"/><circle cx="241.7" cy="1236.7" r="2.3"/><circle cx="226.7" cy="1246.7" r="2.3"/><circle cx="238.3" cy="1246.7" r="2.3"/>
<circle cx="218.3" cy="1258.3" r="2.3"/><circle cx="228.3" cy="1258.3" r="2.3"/><circle cx="217.3" cy="1263.3" r="2.3"/><circle cx="225" cy="1266" r="2.3"/>
<circle cx="226.7" cy="1272.7" r="2.3"/><circle cx="229.3" cy="1276.7" r="2.3"/><circle cx="226.7" cy="1282.7" r="2.3"/>
<circle cx="235" cy="1293.3" r="2.3"/><circle cx="239.3" cy="1293.3" r="2.3"/><circle cx="230" cy="1302.7" r="2.3"/><circle cx="239.3" cy="1302.7" r="2.3"/>
<circle cx="235" cy="1308.3" r="2.3"/><circle cx="248.3" cy="1312.7" r="2.3"/><circle cx="233.3" cy="1318.3" r="2.3"/>
<circle cx="112.7" cy="1334" r="2.3"/><circle cx="118.3" cy="1334" r="2.3"/><circle cx="125" cy="1334" r="2.3"/><circle cx="140" cy="1334" r="2.3"/>
<circle cx="80.7" cy="1343.3" r="2.3"/><circle cx="80.7" cy="1353.3" r="2.3"/><circle cx="97.3" cy="1348.3" r="2.3"/><circle cx="107.3" cy="1348.3" r="2.3"/>

<circle cx="594" cy="1156.7" r="2.3"/><circle cx="601.7" cy="1151.7" r="2.3"/><circle cx="607.3" cy="1156.7" r="2.3"/><circle cx="600" cy="1161.7" r="2.3"/>
<circle cx="435" cy="1170.7" r="2.3"/><circle cx="440.7" cy="1170.7" r="2.3"/><circle cx="451" cy="1166" r="2.3"/><circle cx="447.3" cy="1176" r="2.3"/>
<circle cx="541.7" cy="1191.7" r="2.3"/><circle cx="551.7" cy="1191.7" r="2.3"/><circle cx="562.7" cy="1191.7" r="2.3"/><circle cx="574" cy="1191.7" r="2.3"/>
<circle cx="439.3" cy="1201.7" r="2.3"/><circle cx="439.3" cy="1206.7" r="2.3"/><circle cx="451.7" cy="1206.7" r="2.3"/><circle cx="439.3" cy="1211.7" r="2.3"/>
<circle cx="614.3" cy="1222.3" r="2.3"/><circle cx="626" cy="1227.3" r="2.3"/><circle cx="610.7" cy="1232.7" r="2.3"/><circle cx="617.3" cy="1232.7" r="2.3"/>
<circle cx="436.7" cy="1236.7" r="2.3"/><circle cx="430.7" cy="1241.7" r="2.3"/><circle cx="439" cy="1246.7" r="2.3"/>
<circle cx="497.7" cy="1258.3" r="2.3"/><circle cx="512.3" cy="1263.3" r="2.3"/><circle cx="521" cy="1263.3" r="2.3"/><circle cx="497.7" cy="1268.3" r="2.3"/>
<circle cx="417.7" cy="1277.3" r="2.3"/><circle cx="428.3" cy="1277.3" r="2.3"/><circle cx="440" cy="1277.3" r="2.3"/><circle cx="469.3" cy="1277.3" r="2.3"/>
<circle cx="482.7" cy="1293.3" r="2.3"/><circle cx="494.3" cy="1298.3" r="2.3"/><circle cx="481" cy="1303.3" r="2.3"/>
<circle cx="438.3" cy="1308.3" r="2.3"/><circle cx="430" cy="1312.7" r="2.3"/><circle cx="449.3" cy="1312.7" r="2.3"/><circle cx="438.3" cy="1318.3" r="2.3"/>
<circle cx="505" cy="1329.3" r="2.3"/><circle cx="509.3" cy="1329.3" r="2.3"/><circle cx="505" cy="1335" r="2.3"/><circle cx="503.3" cy="1339.3" r="2.3"/>
<circle cx="436.7" cy="1343.3" r="2.3"/><circle cx="446.7" cy="1348.3" r="2.3"/><circle cx="451.7" cy="1348.3" r="2.3"/><circle cx="436.7" cy="1353.3" r="2.3"/>

<circle cx="916.7" cy="1152.3" r="2.3"/><circle cx="921.7" cy="1152.3" r="2.3"/><circle cx="920" cy="1156.7" r="2.3"/><circle cx="912.7" cy="1161.7" r="2.3"/>
<circle cx="900.7" cy="1166" r="2.3"/><circle cx="911.7" cy="1166" r="2.3"/><circle cx="898.3" cy="1176" r="2.3"/><circle cx="910" cy="1176" r="2.3"/>
<circle cx="911.7" cy="1191.7" r="2.3"/><circle cx="918.3" cy="1188.3" r="2.3"/><circle cx="922.3" cy="1191.7" r="2.3"/><circle cx="918.3" cy="1196.7" r="2.3"/>
<circle cx="884.3" cy="1201.7" r="2.3"/><circle cx="889.3" cy="1201.7" r="2.3"/><circle cx="880" cy="1206.7" r="2.3"/><circle cx="886.7" cy="1211.7" r="2.3"/>
<circle cx="912.7" cy="1222.3" r="2.3"/><circle cx="926.7" cy="1222.3" r="2.3"/><circle cx="912.7" cy="1232.7" r="2.3"/><circle cx="925" cy="1232.7" r="2.3"/>
<circle cx="875" cy="1236.7" r="2.3"/><circle cx="862.7" cy="1241.7" r="2.3"/><circle cx="871.7" cy="1246.7" r="2.3"/>
<circle cx="748.3" cy="1258.3" r="2.3"/><circle cx="741.7" cy="1263.3" r="2.3"/><circle cx="756.7" cy="1263.3" r="2.3"/><circle cx="749.3" cy="1268.3" r="2.3"/>
<circle cx="746" cy="1272.7" r="2.3"/><circle cx="731.7" cy="1277.3" r="2.3"/><circle cx="746.7" cy="1282.7" r="2.3"/>
<circle cx="752.7" cy="1293.3" r="2.3"/><circle cx="758.3" cy="1293.3" r="2.3"/><circle cx="752.7" cy="1303.3" r="2.3"/><circle cx="756.7" cy="1303.3" r="2.3"/>
<circle cx="731.7" cy="1308.3" r="2.3"/><circle cx="726" cy="1312.7" r="2.3"/><circle cx="734" cy="1318.3" r="2.3"/>
<circle cx="746" cy="1329.3" r="2.3"/><circle cx="755" cy="1329.3" r="2.3"/><circle cx="742.7" cy="1338.3" r="2.3"/><circle cx="755" cy="1338.3" r="2.3"/>
<circle cx="752.7" cy="1343.3" r="2.3"/><circle cx="752.7" cy="1353.3" r="2.3"/><circle cx="755" cy="1348.3" r="2.3"/>
</g>
<!-- significance bars -->
<g stroke="#000" stroke-width="1.6">
<path d="M255,1155V1172M311,1190.5V1207.5M285,1225.9V1242.9M250,1261.4V1278.4M259.3,1296.9V1313.9M74,1332.4V1349.4"/>
<path d="M615.7,1155V1172M569.3,1190.5V1207.5M622.7,1225.9V1242.9M519.3,1261.4V1278.4M494,1296.9V1313.9M516,1332.4V1349.4"/>
<path d="M940,1155V1172M933.3,1190.5V1207.5M935,1225.9V1242.9M715,1261.4V1278.4M717.3,1296.9V1313.9M723.3,1332.4V1349.4"/>
</g>
<g font-size="18">
<text x="257.5" y="1173">***</text><text x="313.5" y="1208.5">**</text><text x="287.5" y="1243.9">***</text>
<text x="617.7" y="1173">***</text><text x="571.3" y="1208.5">**</text><text x="624.7" y="1243.9">***</text><text x="521.3" y="1279.4">**</text><text x="496" y="1314.9">***</text><text x="518" y="1350.4">***</text>
<text x="942" y="1173">**</text><text x="935.3" y="1208.5">***</text><text x="937" y="1243.9">***</text>
<text x="715" y="1314.9" text-anchor="end">***</text>
</g>
<g font-size="12">
<text x="252" y="1276.4">NS</text><text x="261.3" y="1311.9">NS</text><text x="71" y="1347.4" text-anchor="end">NS</text>
<text x="712" y="1276.4" text-anchor="end">NS</text><text x="720" y="1347.4" text-anchor="end">NS</text>
</g>
<!-- titles -->
<g font-size="16.5" font-weight="bold" text-anchor="middle">
<text x="177" y="1144"><tspan font-style="italic">catp-3</tspan> mRNA level</text>
<text x="520" y="1144"><tspan font-style="italic">catp-2</tspan> mRNA level</text>
<text x="840" y="1144"><tspan font-style="italic">sysm-1</tspan> mRNA level</text>
</g>
<g font-size="14.5">
<text x="25" y="1166" style="fill:#9a9a9a">NGM plate</text>
<text x="25" y="1183" style="fill:#fc7e3e">NaCl 100mM</text>
<text x="25" y="1201">A3d worms</text>
</g>
<g font-size="17" text-anchor="middle">
<text x="56" y="1383">0.001</text><text x="106" y="1383">0.01</text><text x="156" y="1383">0.1</text><text x="206.7" y="1383">1</text><text x="256" y="1383">10</text><text x="306" y="1383">100</text>
<text x="381.7" y="1383">0.1</text><text x="443.9" y="1383">1</text><text x="506.1" y="1383">10</text><text x="568.3" y="1383">100</text><text x="630.5" y="1383">1000</text>
<text x="717.7" y="1383">0.001</text><text x="780.2" y="1383">0.01</text><text x="842.7" y="1383">0.1</text><text x="905.2" y="1383">1</text><text x="967.7" y="1383">10</text>
<text x="200" y="1404">Fold change</text><text x="498.3" y="1402.5">Fold change</text><text x="856.7" y="1402.5">Fold change</text>
</g>
<g font-size="14">
<text x="999" y="1170">Wild type (N2)</text>
<text x="999" y="1206.7">N2;<tspan font-style="italic">Ex1</tspan> (OE)</text>
<text x="999" y="1240.7"><tspan font-style="italic">catp-3(ok1612);Ex3</tspan> (Hypodermis)</text>
<text x="999" y="1273.3"><tspan font-style="italic">sek-1(km4);Ex1</tspan> (OE)</text>
<text x="999" y="1310"><tspan font-style="italic">sek-1(km4);Ex3</tspan> (Hypodermis)</text>
<text x="999" y="1344" font-style="italic">sek-1(km4)</text>
</g>
<g font-size="13.5" font-style="italic">
<text x="1075" y="1361.5">Ex1 = catp-3p::catp-3::GFP;rol-6</text>
<text x="1075" y="1381.5">Ex3 = semo-1p::catp-3;rol-6</text>
</g>
</svg>
</body></html>
